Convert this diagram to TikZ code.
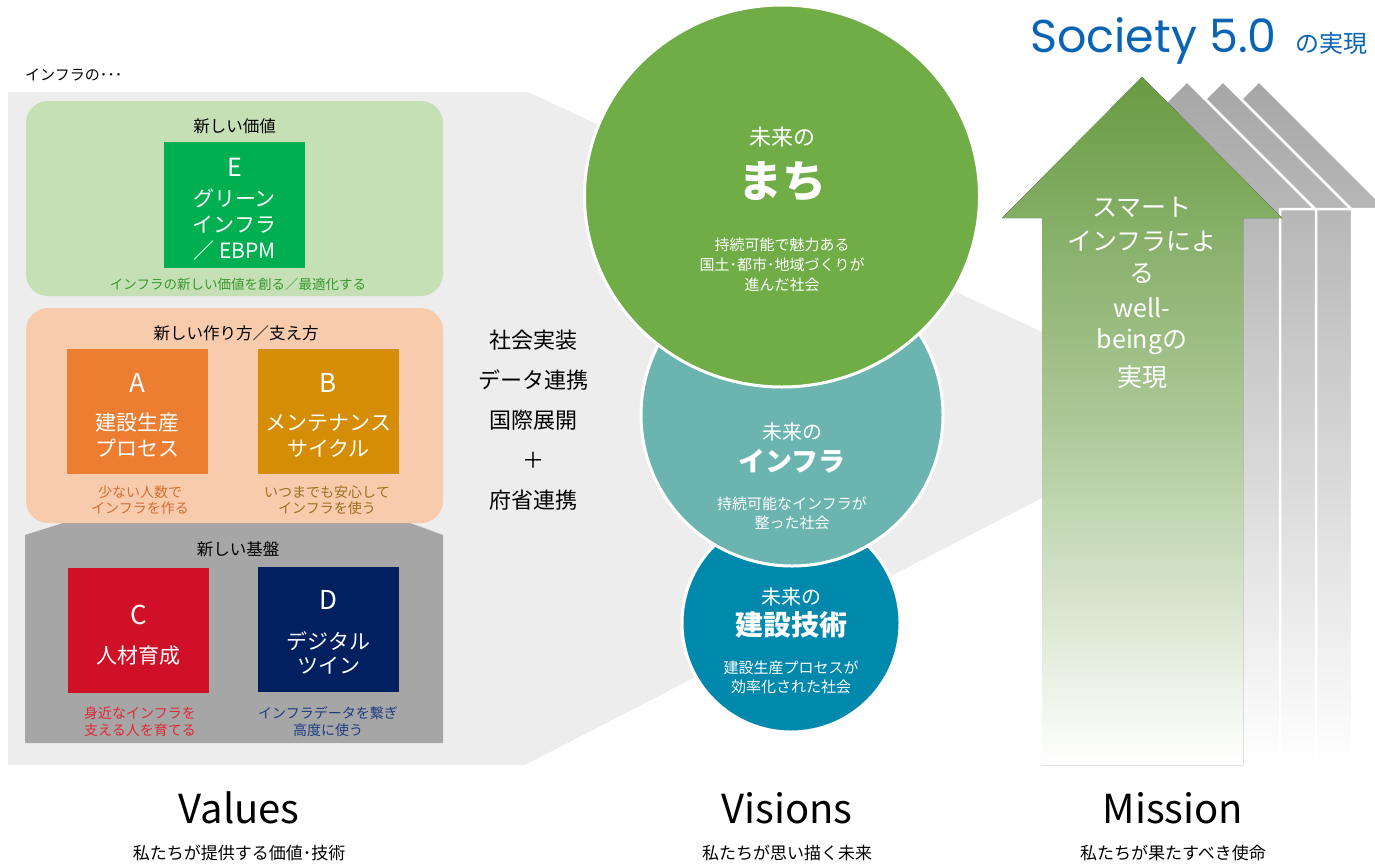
\documentclass[tikz,border=0pt]{standalone}
\usepackage{fontspec}
\setmainfont{Noto Sans CJK JP}
\newfontfamily\popp{Poppins}
\usetikzlibrary{shapes.geometric}
\definecolor{panel}{RGB}{237,237,237}
\definecolor{gbox}{RGB}{197,224,180}
\definecolor{obox}{RGB}{248,203,173}
\definecolor{basegray}{RGB}{166,166,166}
\definecolor{cE}{RGB}{0,176,80}
\definecolor{cA}{RGB}{237,125,49}
\definecolor{cB}{RGB}{212,141,5}
\definecolor{cC}{RGB}{208,16,39}
\definecolor{cD}{RGB}{0,32,96}
\definecolor{tE}{RGB}{56,152,48}
\definecolor{tA}{RGB}{214,110,50}
\definecolor{tB}{RGB}{160,110,30}
\definecolor{tC}{RGB}{224,40,55}
\definecolor{tD}{RGB}{30,60,130}
\definecolor{cMachi}{RGB}{112,173,71}
\definecolor{cInfra}{RGB}{108,180,175}
\definecolor{cTech}{RGB}{0,136,173}
\definecolor{arrowgreen}{RGB}{104,155,66}
\definecolor{arrowgray}{RGB}{166,166,166}
\definecolor{socblue}{RGB}{10,100,180}
\newcommand{\fsz}[1]{\fontsize{#1}{#1}\selectfont}
\begin{document}
\begin{tikzpicture}[x=1pt,y=-1pt,
  txt/.style={inner sep=0pt, align=center},
  wtxt/.style={txt, text=white},
  box/.style={inner sep=0pt, draw=none},
  sq/.style={box, minimum width=141pt, minimum height=126pt},
  circ/.style={draw=white, line width=3pt, inner sep=0pt},
  grayarrow/.style={draw=white, line width=2.5pt, top color=arrowgray, bottom color=white}]
\useasboundingbox (0,0) rectangle (1375,863);

% light gray panel / band
\fill[panel] (8,92) -- (528,92) -- (1100,359) -- (1100,468) -- (525,765) -- (8,765) -- cycle;

\node[txt, anchor=west, font=\fsz{15}] (lbl) at (25,75) {インフラの･･･};

% new value
\node[box, fill=gbox, rounded corners=22pt, minimum width=417pt, minimum height=195pt] (gval) at (234.5,198.5) {};
\node[txt, font=\fsz{16.5}] (gvalT) at (234.5,126) {新しい価値};
\node[sq, fill=cE] (E) at (234.5,205) {};
\node[wtxt, font=\fsz{25}] (Eletter) at (234.5,167) {E};
\node[wtxt, font=\fsz{21}] (E1) at (234.5,198) {グリーン};
\node[wtxt, font=\fsz{21}] (E2) at (234.5,225) {インフラ};
\node[wtxt, font=\fsz{21}] (E3) at (234.5,251) {／ EBPM};
\node[txt, text=tE, font=\fsz{13.5}] (Esub) at (238,284) {インフラの新しい価値を創る／最適化する};

% new base (gray)
\fill[basegray] (25,535) -- (63,523) -- (410,523) -- (443,535) -- (443,743) -- (25,743) -- cycle;

% new way
\node[box, fill=obox, rounded corners=22pt, minimum width=417pt, minimum height=215pt] (oval) at (234.5,415.5) {};
\node[txt, font=\fsz{16.5}] (ovalT) at (236,333) {新しい作り方／支え方};
\node[sq, fill=cA, minimum height=125pt] (A) at (137.5,411.5) {};
\node[wtxt, font=\fsz{26}] (Aletter) at (137.5,383) {A};
\node[wtxt, font=\fsz{21}] (A1) at (137.5,423) {建設生産};
\node[wtxt, font=\fsz{21}] (A2) at (137.5,448) {プロセス};
\node[txt, text=tA, font=\fsz{14}] (Asub1) at (140,492) {少ない人数で};
\node[txt, text=tA, font=\fsz{14}] (Asub2) at (140,508) {インフラを作る};
\node[sq, fill=cB, minimum height=125pt] (B) at (328.5,411.5) {};
\node[wtxt, font=\fsz{26}] (Bletter) at (328.5,383) {B};
\node[wtxt, font=\fsz{21}] (B1) at (328.5,423) {メンテナンス};
\node[wtxt, font=\fsz{21}] (B2) at (328.5,448) {サイクル};
\node[txt, text=tB, font=\fsz{14}] (Bsub1) at (327,492) {いつまでも安心して};
\node[txt, text=tB, font=\fsz{14}] (Bsub2) at (327,508) {インフラを使う};

% new base content
\node[txt, font=\fsz{16.5}] (baseT) at (238,549) {新しい基盤};
\node[sq, fill=cC, minimum height=125pt] (C) at (138.5,630.5) {};
\node[wtxt, font=\fsz{26}] (Cletter) at (138.5,615) {C};
\node[wtxt, font=\fsz{21}] (C1) at (138.5,656) {人材育成};
\node[txt, text=tC, font=\fsz{14}] (Csub1) at (140,713) {身近なインフラを};
\node[txt, text=tC, font=\fsz{14}] (Csub2) at (140,730) {支える人を育てる};
\node[sq, fill=cD, minimum height=125pt] (D) at (328.5,629.5) {};
\node[wtxt, font=\fsz{26}] (Dletter) at (328.5,600) {D};
\node[wtxt, font=\fsz{21}] (D1) at (328.5,641) {デジタル};
\node[wtxt, font=\fsz{21}] (D2) at (328.5,666) {ツイン};
\node[txt, text=tD, font=\fsz{14}] (Dsub1) at (328,713) {インフラデータを繋ぎ};
\node[txt, text=tD, font=\fsz{14}] (Dsub2) at (328,730) {高度に使う};

% middle list
\node[txt, font=\fsz{22}] (m1) at (533,340) {社会実装};
\node[txt, font=\fsz{22}] (m2) at (533,380) {データ連携};
\node[txt, font=\fsz{22}] (m3) at (533,420) {国際展開};
\node[txt, font=\fsz{22}] (m4) at (533,460) {＋};
\node[txt, font=\fsz{22}] (m5) at (533,500) {府省連携};

% circles
\node[circle, circ, fill=cTech, minimum size=218pt] (tech) at (791,623) {};
\node[circle, circ, fill=cInfra, minimum size=302pt] (infra) at (792,415) {};
\node[ellipse, circ, fill=cMachi, minimum width=395pt, minimum height=382pt] (machi) at (782,196) {};

\node[wtxt, font=\fsz{22}] (machi1) at (782,137) {未来の};
\node[wtxt, font=\bfseries\fsz{44}] (machi2) at (782,182) {まち};
\node[wtxt, font=\fsz{15}] (machi3) at (782,245) {持続可能で魅力ある};
\node[wtxt, font=\fsz{15}] (machi4) at (782,265) {国土･都市･地域づくりが};
\node[wtxt, font=\fsz{15}] (machi5) at (782,285) {進んだ社会};

\node[wtxt, font=\fsz{20}] (infra1) at (792,432) {未来の};
\node[wtxt, font=\bfseries\fsz{27}] (infra2) at (792,461) {インフラ};
\node[wtxt, font=\fsz{15}] (infra3) at (792,504) {持続可能なインフラが};
\node[wtxt, font=\fsz{15}] (infra4) at (792,523) {整った社会};

\node[wtxt, font=\fsz{20}] (tech1) at (791,597) {未来の};
\node[wtxt, font=\bfseries\fsz{28}] (tech2) at (791,625) {建設技術};
\node[wtxt, font=\fsz{15}] (tech3) at (791,668) {建設生産プロセスが};
\node[wtxt, font=\fsz{15}] (tech4) at (791,687) {効率化された社会};

% arrows
\foreach \d in {72,36,0} {
  \path[grayarrow] ({1187+\d},81) -- ({1315+\d},209) -- ({1280+\d},209) -- ({1280+\d},765)
     -- ({1094+\d},765) -- ({1094+\d},209) -- ({1059+\d},209) -- cycle;
}
\fill[top color=arrowgreen, bottom color=white, middle color=arrowgreen!55!white]
  (1142,77) -- (1282,218) -- (1243,218) -- (1243,765) -- (1042,765) -- (1042,218) -- (1002,218) -- cycle;

\node[wtxt, font=\fsz{25}] (ar1) at (1142,207) {スマート};
\node[wtxt, font=\fsz{25}] (ar2) at (1142,241) {インフラによ};
\node[wtxt, font=\fsz{25}] (ar3) at (1142,274) {る};
\node[wtxt, font=\fsz{25}] (ar4) at (1142,308) {well-};
\node[wtxt, font=\fsz{25}] (ar5) at (1142,342) {beingの};
\node[wtxt, font=\fsz{25}] (ar6) at (1142,377) {実現};

% Society 5.0
\node[txt, anchor=base east, text=socblue, font=\popp\fsz{46}] (soc) at (1277,52) {Society 5.0};
\node[txt, anchor=base east, text=socblue, font=\fsz{24}] (socj) at (1368,52) {の実現};

% bottom labels
\node[txt, font=\fsz{40}] (vals) at (239,808) {Values};
\node[txt, font=\fsz{17}] (valsj) at (239,853) {私たちが提供する価値･技術};
\node[txt, font=\fsz{40}] (viss) at (787,808) {Visions};
\node[txt, font=\fsz{17}] (vissj) at (787,853) {私たちが思い描く未来};
\node[txt, font=\fsz{40}] (miss) at (1173,808) {Mission};
\node[txt, font=\fsz{17}] (missj) at (1173,853) {私たちが果たすべき使命};
\end{tikzpicture}
\end{document}
